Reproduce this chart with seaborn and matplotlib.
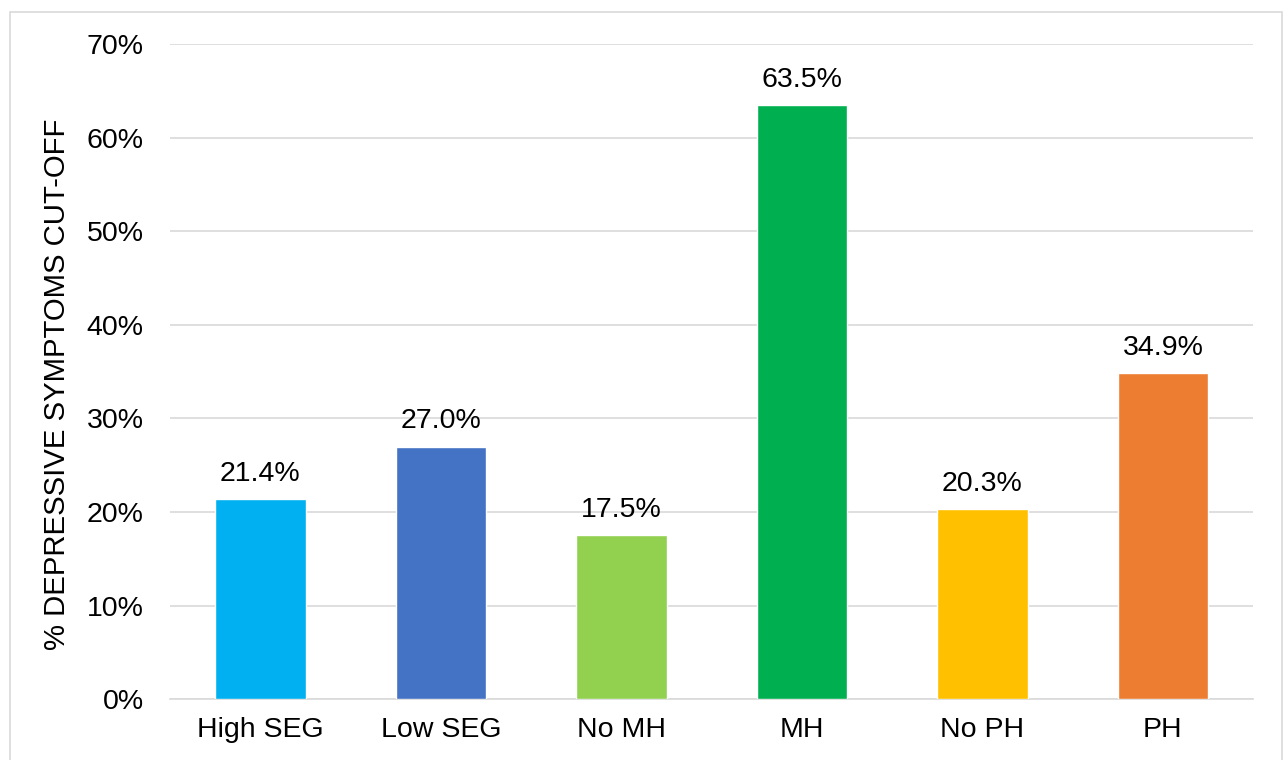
import matplotlib
matplotlib.use("Agg")
import matplotlib.pyplot as plt
import seaborn as sns
import pandas as pd
from matplotlib.ticker import PercentFormatter

categories = ["High SEG", "Low SEG", "No MH", "MH", "No PH", "PH"]
values = [21.4, 27.0, 17.5, 63.5, 20.3, 34.9]
colors = ["#00B0F0", "#4472C4", "#92D050", "#00B050", "#FFC000", "#ED7D31"]
y_ticks = [0, 10, 20, 30, 40, 50, 60, 70]

sns.set_theme(style="white")
plt.rcParams["font.family"] = ["Liberation Sans", "DejaVu Sans"]

FS = 20.5
df = pd.DataFrame({"group": categories, "pct": values})

fig = plt.figure(figsize=(12.84, 7.6), dpi=100)
ax = fig.add_axes([0.1325, 0.080, 0.8435, 0.862])

sns.barplot(data=df, x="group", y="pct", hue="group", palette=colors,
            width=0.5, legend=False, ax=ax, saturation=1, zorder=3)

for i, v in enumerate(values):
    ax.annotate(f"{v:.1f}%", xy=(i, v), xytext=(0, 13), textcoords="offset points",
                ha="center", va="baseline", fontsize=FS, color="#000000")

ax.set_ylim(0, 70)
ax.set_yticks(y_ticks)
ax.yaxis.set_major_formatter(PercentFormatter(decimals=0))
ax.set_xlim(-0.5, len(categories) - 0.5)
ax.grid(axis="y", color="#D9D9D9", linewidth=1.2, zorder=0)
ax.set_axisbelow(True)
for s in ["top", "right", "left"]:
    ax.spines[s].set_visible(False)
ax.spines["bottom"].set_color("#D9D9D9")
ax.spines["bottom"].set_linewidth(1.2)
ax.tick_params(axis="both", length=0, labelsize=FS, colors="#000000")
ax.tick_params(axis="y", pad=19)
ax.tick_params(axis="x", pad=13)
ax.set_xlabel("")
ax.set_ylabel("% DEPRESSIVE SYMPTOMS CUT-OFF", fontsize=21.2, color="#000000", labelpad=11)
ax.yaxis.label.set_y(0.48)

# chart-area border
fig.patches.append(plt.Rectangle((10 / 1284, -0.01), 1272 / 1284, 0.994, transform=fig.transFigure,
                                 fill=False, edgecolor="#D9D9D9", linewidth=1.2))

fig.savefig("out.png", dpi=100)
